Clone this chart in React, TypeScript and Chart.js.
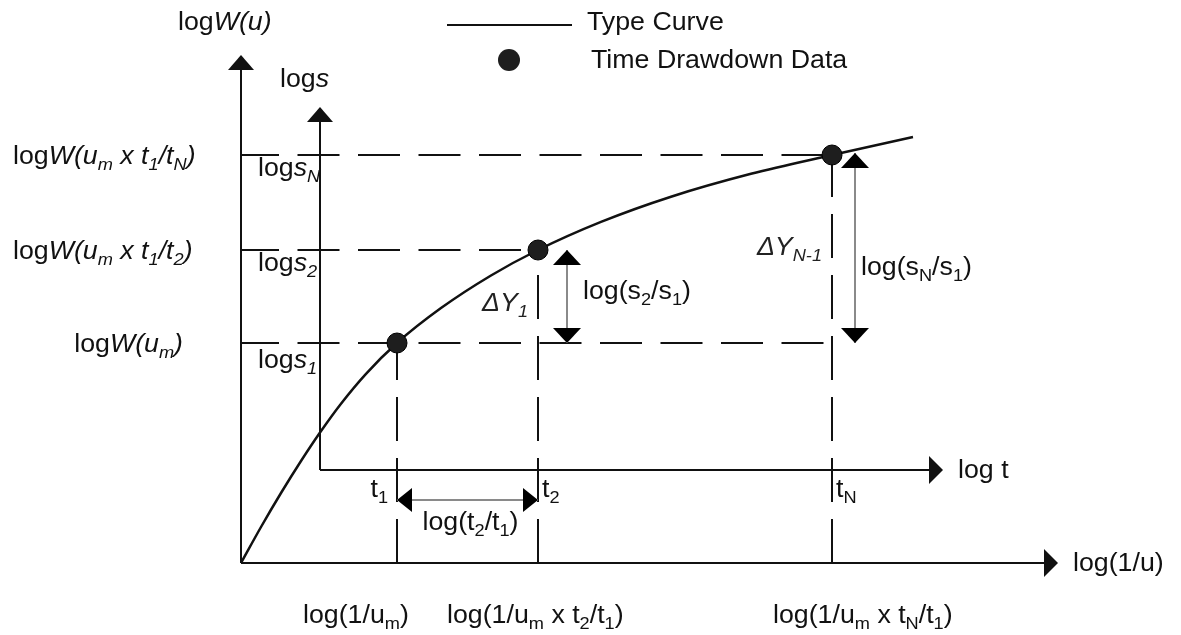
import React, { useEffect, useRef } from "react";
import { Chart, registerables } from "chart.js";

Chart.register(...registerables);

// Type curve: log W(u) against log(1/u), in diagram units
const curveLogInvU = [0, 0.2, 0.4, 0.6, 0.79, 1.0, 1.25, 1.56, 2.0, 2.5, 2.97, 3.6, 4.3, 5.1, 5.91, 6.72];
const curveLogW = [0, 0.36, 0.7, 1.02, 1.305, 1.593, 1.892, 2.2, 2.549, 2.875, 3.13, 3.411, 3.663, 3.892, 4.08, 4.26];

// Matched time-drawdown points (t1, t2, tN)
const dataLogInvU = [1.56, 2.97, 5.91];
const dataLogW = [2.2, 3.13, 4.08];

// Axis extents: main W(u) axes and the overlaid s / t axes
const mainAxisEnd = [8.17, 5.08];
const timeOrigin = [0.79, 0.93];
const timeAxisEnd = [7.02, 4.56];

// Labels (* toggles italic, _{..} is a subscript)
const seriesNames = ["Time Drawdown Data", "Type Curve"];
const wLabels = ["log*W(u_{m})*", "log*W(u_{m} x t_{1}/t_{2})*", "log*W(u_{m} x t_{1}/t_{N})*"];
const sLabels = ["log*s_{1}*", "log*s_{2}*", "log*s_{N}*"];
const tLabels = ["t_{1}", "t_{2}", "t_{N}"];
const uLabels = ["log(1/u_{m})", "log(1/u_{m} x t_{2}/t_{1})", "log(1/u_{m} x t_{N}/t_{1})"];
const deltaLabels = ["*ΔY_{1}*", "*ΔY_{N-1}*"];
const ratioLabels = ["log(s_{2}/s_{1})", "log(s_{N}/s_{1})"];
const axisTitles = ["log*W(u)*", "log*s*", "log t", "log(1/u)"];
const spanLabel = "log(t_{2}/t_{1})";

const FONT = '"Liberation Sans", Arial, Helvetica, sans-serif';
const INK = "#111111";
const TEXT_SIZE = 25;
const TEXT_STRETCH = 1.07;

type Seg = { text: string; italic: boolean; sub: boolean };

function parseRich(src: string): Seg[] {
  const segs: Seg[] = [];
  let italic = false;
  let sub = false;
  let buf = "";
  const flush = () => {
    if (buf) segs.push({ text: buf, italic, sub });
    buf = "";
  };
  for (let i = 0; i < src.length; i++) {
    const c = src[i];
    if (c === "*") {
      flush();
      italic = !italic;
    } else if (c === "_" && src[i + 1] === "{") {
      flush();
      sub = true;
      i++;
    } else if (c === "}" && sub) {
      flush();
      sub = false;
    } else {
      buf += c;
    }
  }
  flush();
  return segs;
}

function drawRich(
  ctx: CanvasRenderingContext2D,
  src: string,
  x: number,
  y: number,
  align: "left" | "right" | "center" = "left",
  color = INK,
  size = TEXT_SIZE
) {
  const segs = parseRich(src);
  const fontFor = (s: Seg) =>
    `${s.italic ? "italic " : ""}${s.sub ? Math.round(size * 0.66) : size}px ${FONT}`;
  let total = 0;
  const widths = segs.map((s) => {
    ctx.font = fontFor(s);
    const w = ctx.measureText(s.text).width;
    total += w;
    return w;
  });
  const shown = total * TEXT_STRETCH;
  const start = align === "left" ? x : align === "right" ? x - shown : x - shown / 2;
  ctx.save();
  ctx.translate(start, y);
  ctx.scale(TEXT_STRETCH, 1);
  ctx.fillStyle = color;
  ctx.textAlign = "left";
  ctx.textBaseline = "alphabetic";
  let cx = 0;
  segs.forEach((s, i) => {
    ctx.font = fontFor(s);
    ctx.fillText(s.text, cx, s.sub ? size * 0.24 : 0);
    cx += widths[i];
  });
  ctx.restore();
}

function arrowHead(
  ctx: CanvasRenderingContext2D,
  tx: number,
  ty: number,
  dir: "up" | "down" | "left" | "right",
  len = 15,
  half = 13
) {
  ctx.beginPath();
  ctx.moveTo(tx, ty);
  if (dir === "up") {
    ctx.lineTo(tx - half, ty + len);
    ctx.lineTo(tx + half, ty + len);
  } else if (dir === "down") {
    ctx.lineTo(tx - half, ty - len);
    ctx.lineTo(tx + half, ty - len);
  } else if (dir === "left") {
    ctx.lineTo(tx + len, ty - half);
    ctx.lineTo(tx + len, ty + half);
  } else {
    ctx.lineTo(tx - len, ty - half);
    ctx.lineTo(tx - len, ty + half);
  }
  ctx.closePath();
  ctx.fill();
}

function segment(ctx: CanvasRenderingContext2D, x1: number, y1: number, x2: number, y2: number) {
  ctx.beginPath();
  ctx.moveTo(x1, y1);
  ctx.lineTo(x2, y2);
  ctx.stroke();
}

const diagramPlugin = {
  id: "theisDiagram",
  beforeDatasetsDraw(chart: any) {
    const ctx: CanvasRenderingContext2D = chart.ctx;
    const px = (v: number) => chart.scales.x.getPixelForValue(v);
    const py = (v: number) => chart.scales.y.getPixelForValue(v);
    const x0 = px(0);
    const y0 = py(0);
    const last = dataLogInvU.length - 1;

    ctx.save();
    ctx.strokeStyle = INK;
    ctx.fillStyle = INK;
    ctx.lineWidth = 2;

    // dashed guides from each matched point to the axes
    ctx.setLineDash([42, 18.5]);
    ctx.lineDashOffset = 4;
    dataLogW.forEach((w, i) => {
      const xEnd = i === 0 ? dataLogInvU[last] : dataLogInvU[i];
      segment(ctx, x0, py(w), px(xEnd), py(w));
    });
    ctx.setLineDash([44, 17]);
    ctx.lineDashOffset = 0;
    dataLogInvU.forEach((u, i) => segment(ctx, px(u), y0, px(u), py(dataLogW[i])));
    ctx.setLineDash([]);

    // main axes
    segment(ctx, x0, y0, x0, py(mainAxisEnd[1]) + 4);
    segment(ctx, x0, y0, px(mainAxisEnd[0]) - 4, y0);
    arrowHead(ctx, x0, py(mainAxisEnd[1]), "up");
    arrowHead(ctx, px(mainAxisEnd[0]), y0, "right", 14, 14);

    // overlaid drawdown / time axes
    const tx0 = px(timeOrigin[0]);
    const ty0 = py(timeOrigin[1]);
    segment(ctx, tx0, ty0, tx0, py(timeAxisEnd[1]) + 4);
    segment(ctx, tx0, ty0, px(timeAxisEnd[0]) - 4, ty0);
    arrowHead(ctx, tx0, py(timeAxisEnd[1]), "up");
    arrowHead(ctx, px(timeAxisEnd[0]), ty0, "right", 14, 14);

    // double-headed measurement arrows
    const grayArrow = (x1: number, y1: number, x2: number, y2: number, vertical: boolean) => {
      ctx.strokeStyle = "#8a8a8a";
      ctx.lineWidth = 2;
      segment(ctx, x1, y1, x2, y2);
      ctx.fillStyle = "#000";
      if (vertical) {
        arrowHead(ctx, x1, y1, y1 < y2 ? "up" : "down", 15, 14);
        arrowHead(ctx, x2, y2, y2 < y1 ? "up" : "down", 15, 14);
      } else {
        arrowHead(ctx, x1, y1, x1 < x2 ? "left" : "right", 15, 12);
        arrowHead(ctx, x2, y2, x2 < x1 ? "left" : "right", 15, 12);
      }
    };
    const a1x = px(dataLogInvU[1]) + 29;
    grayArrow(a1x, py(dataLogW[1]), a1x, py(dataLogW[0]), true);
    const aNx = px(dataLogInvU[last]) + 23;
    grayArrow(aNx, py(dataLogW[last]) - 2, aNx, py(dataLogW[0]), true);
    const spanY = ty0 + 30;
    grayArrow(px(dataLogInvU[0]), spanY, px(dataLogInvU[1]), spanY, false);

    ctx.restore();
  },
  afterDatasetsDraw(chart: any) {
    const ctx: CanvasRenderingContext2D = chart.ctx;
    const px = (v: number) => chart.scales.x.getPixelForValue(v);
    const py = (v: number) => chart.scales.y.getPixelForValue(v);
    const x0 = px(0);
    const y0 = py(0);
    const tx0 = px(timeOrigin[0]);
    const ty0 = py(timeOrigin[1]);
    const last = dataLogInvU.length - 1;

    ctx.save();

    // axis titles
    drawRich(ctx, axisTitles[0], x0 - 63, py(mainAxisEnd[1]) - 25);
    drawRich(ctx, axisTitles[1], tx0 - 40, py(timeAxisEnd[1]) - 20);
    drawRich(ctx, axisTitles[2], px(timeAxisEnd[0]) + 15, ty0 + 8);
    drawRich(ctx, axisTitles[3], px(mainAxisEnd[0]) + 15, y0 + 8);

    // W(u) and s levels
    wLabels.forEach((lab, i) => {
      const y = py(dataLogW[i]) + 9;
      if (i === 0) drawRich(ctx, lab, x0 - 58, y, "right");
      else drawRich(ctx, lab, 13, y, "left");
    });
    sLabels.forEach((lab, i) => {
      drawRich(ctx, lab, x0 + 17, py(dataLogW[i]) + (i === 0 ? 25 : 21));
    });

    // time ticks
    tLabels.forEach((lab, i) => {
      const x = px(dataLogInvU[i]);
      if (i === 0) drawRich(ctx, lab, x - 9, ty0 + 27, "right");
      else drawRich(ctx, lab, x + 4, ty0 + 27, "left");
    });
    drawRich(ctx, spanLabel, (px(dataLogInvU[0]) + px(dataLogInvU[1])) / 2 + 3, ty0 + 60, "center");

    // log(1/u) positions
    const uOffsets = [-94, -91, -59];
    uLabels.forEach((lab, i) => {
      drawRich(ctx, lab, px(dataLogInvU[i]) + uOffsets[i], y0 + 60, "left");
    });

    // increments
    drawRich(ctx, deltaLabels[0], px(dataLogInvU[1]) - 10, py(dataLogW[0]) - 32, "right", "#222");
    drawRich(ctx, deltaLabels[1], px(dataLogInvU[last]) - 10, (py(dataLogW[0]) + py(dataLogW[last])) / 2 + 6, "right", "#222");
    drawRich(ctx, ratioLabels[0], px(dataLogInvU[1]) + 45, (py(dataLogW[0]) + py(dataLogW[1])) / 2 + 2, "left");
    drawRich(ctx, ratioLabels[1], px(dataLogInvU[last]) + 29, (py(dataLogW[0]) + py(dataLogW[last])) / 2 + 26, "left");

    // legend
    const curveDs = chart.data.datasets[1];
    const pointDs = chart.data.datasets[0];
    ctx.strokeStyle = curveDs.borderColor;
    ctx.lineWidth = 2;
    segment(ctx, 447, 25, 572, 25);
    drawRich(ctx, curveDs.label, 587, 30);
    ctx.fillStyle = pointDs.backgroundColor;
    ctx.beginPath();
    ctx.arc(509, 60, 11, 0, Math.PI * 2);
    ctx.fill();
    drawRich(ctx, pointDs.label, 591, 68);

    ctx.restore();
  },
};

export default function App() {
  const canvasRef = useRef<HTMLCanvasElement | null>(null);

  useEffect(() => {
    document.body.style.margin = "0";
    document.body.style.overflow = "hidden";
    const canvas = canvasRef.current;
    if (!canvas) return;
    const chart = new Chart(canvas, {
      type: "scatter",
      data: {
        datasets: [
          {
            label: seriesNames[0],
            data: dataLogInvU.map((x, i) => ({ x, y: dataLogW[i] })),
            pointRadius: 10,
            pointBackgroundColor: "#1e1e1e",
            backgroundColor: "#1e1e1e",
            pointBorderColor: "#000",
            pointBorderWidth: 1,
            showLine: false,
          },
          {
            label: seriesNames[1],
            data: curveLogInvU.map((x, i) => ({ x, y: curveLogW[i] })),
            showLine: true,
            borderColor: INK,
            borderWidth: 2.5,
            pointRadius: 0,
            cubicInterpolationMode: "monotone",
            fill: false,
          },
        ],
      },
      options: {
        animation: false,
        responsive: false,
        maintainAspectRatio: false,
        devicePixelRatio: 1,
        events: [],
        layout: { padding: 0, autoPadding: false },
        plugins: { legend: { display: false }, tooltip: { enabled: false } },
        scales: {
          x: { type: "linear", min: -2.41, max: 9.4, display: false },
          y: { type: "linear", min: -0.72, max: 5.63, display: false },
        },
      },
      plugins: [diagramPlugin],
    } as any);
    return () => chart.destroy();
  }, []);

  return (
    <div style={{ width: 1181, height: 635, background: "#fff" }}>
      <canvas ref={canvasRef} width={1181} height={635} style={{ display: "block" }} />
    </div>
  );
}
